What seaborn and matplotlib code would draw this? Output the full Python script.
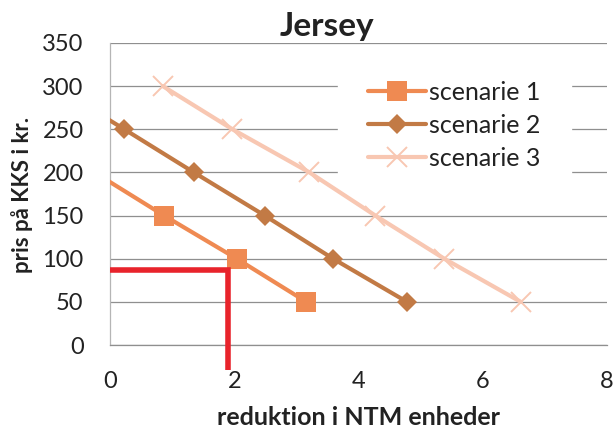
import matplotlib
matplotlib.use("Agg")
import matplotlib.pyplot as plt
import seaborn as sns
import pandas as pd

# Jersey - pris paa KKS mod reduktion i NTM enheder

# values (first point of scenario 1 and 2 lies left of x=0)
s1_x = [-0.25, 0.87, 2.04, 3.16]
s1_y = [200, 150, 100, 50]
s2_x = [-0.9, 0.23, 1.35, 2.49, 3.59, 4.78]
s2_y = [300, 250, 200, 150, 100, 50]
s3_x = [0.85, 1.97, 3.21, 4.27, 5.38, 6.61]
s3_y = [300, 250, 200, 150, 100, 50]

# red guide line
guide_x = [0, 1.9, 1.9]
guide_y = [87, 87, -29]

x_ticks = [0, 2, 4, 6, 8]
y_ticks = [0, 50, 100, 150, 200, 250, 300, 350]

sns.set_style("white")
plt.rcParams['font.family'] = ['Lato', 'DejaVu Sans']

fig = plt.figure(figsize=(6.16, 4.34), dpi=100)
ax = fig.add_axes([0.1786, 0.205, 0.807, 0.696])

# horizontal grid
for yv in y_ticks:
    ax.axhline(yv, color='#8f8f8f', lw=0.9, zorder=0)

series = [
    ('scenarie 1', s1_x, s1_y, '#ef8a52', 's', 14, 0),
    ('scenarie 2', s2_x, s2_y, '#c27a45', 'D', 10.5, 0),
    ('scenarie 3', s3_x, s3_y, '#f8c7b2', 'x', 14, 1.4),
]
for name, xs, ys, col, mk, ms, mew in series:
    df = pd.DataFrame({'x': xs, 'y': ys})
    sns.lineplot(data=df, x='x', y='y', ax=ax, sort=False, color=col,
                 linewidth=3, marker=mk, markersize=ms, label=name,
                 estimator=None, markeredgewidth=mew, markeredgecolor=col,
                 zorder=3)

ax.plot(guide_x, guide_y, color='#e8232b', lw=4, clip_on=False,
        solid_capstyle='butt', solid_joinstyle='miter', zorder=5)

ax.set_xlim(0, 8)
ax.set_ylim(0, 350)
ax.set_xticks(x_ticks)
ax.set_yticks(y_ticks)
ax.tick_params(axis='x', length=0, pad=19, labelsize=17, colors='#222222')
ax.tick_params(axis='y', length=0, pad=19, labelsize=17, colors='#222222')
ax.set_xlabel('')
ax.set_ylabel('')

for side in ['top', 'right']:
    ax.spines[side].set_visible(False)
ax.spines['left'].set_color('#b5b5b5')
ax.spines['left'].set_linewidth(0.9)
ax.spines['bottom'].set_color('#8f8f8f')
ax.spines['bottom'].set_linewidth(0.9)

leg = ax.legend(loc='upper left', bbox_to_anchor=(0.459, 0.975),
                borderaxespad=0, borderpad=1.2, frameon=True,
                fontsize=18, handlelength=2.3, handletextpad=0.15,
                labelspacing=0.4)
leg.get_frame().set_facecolor('white')
leg.get_frame().set_edgecolor('white')
leg.get_frame().set_alpha(1)
leg.set_zorder(1)
for t in leg.get_texts():
    t.set_color('#222222')

fig.text(0.531, 0.917, 'Jersey', ha='center', va='baseline',
         fontsize=24, fontweight='bold', color='#222222')
fig.text(0.582, 0.037, 'reduktion i NTM enheder', ha='center', va='center',
         fontsize=18, fontweight='bold', color='#222222')
fig.text(0.036, 0.55, 'pris på KKS i kr.', ha='center', va='center',
         rotation=90, fontsize=16, fontweight='bold', color='#222222')

plt.savefig('out.png', dpi=100)
